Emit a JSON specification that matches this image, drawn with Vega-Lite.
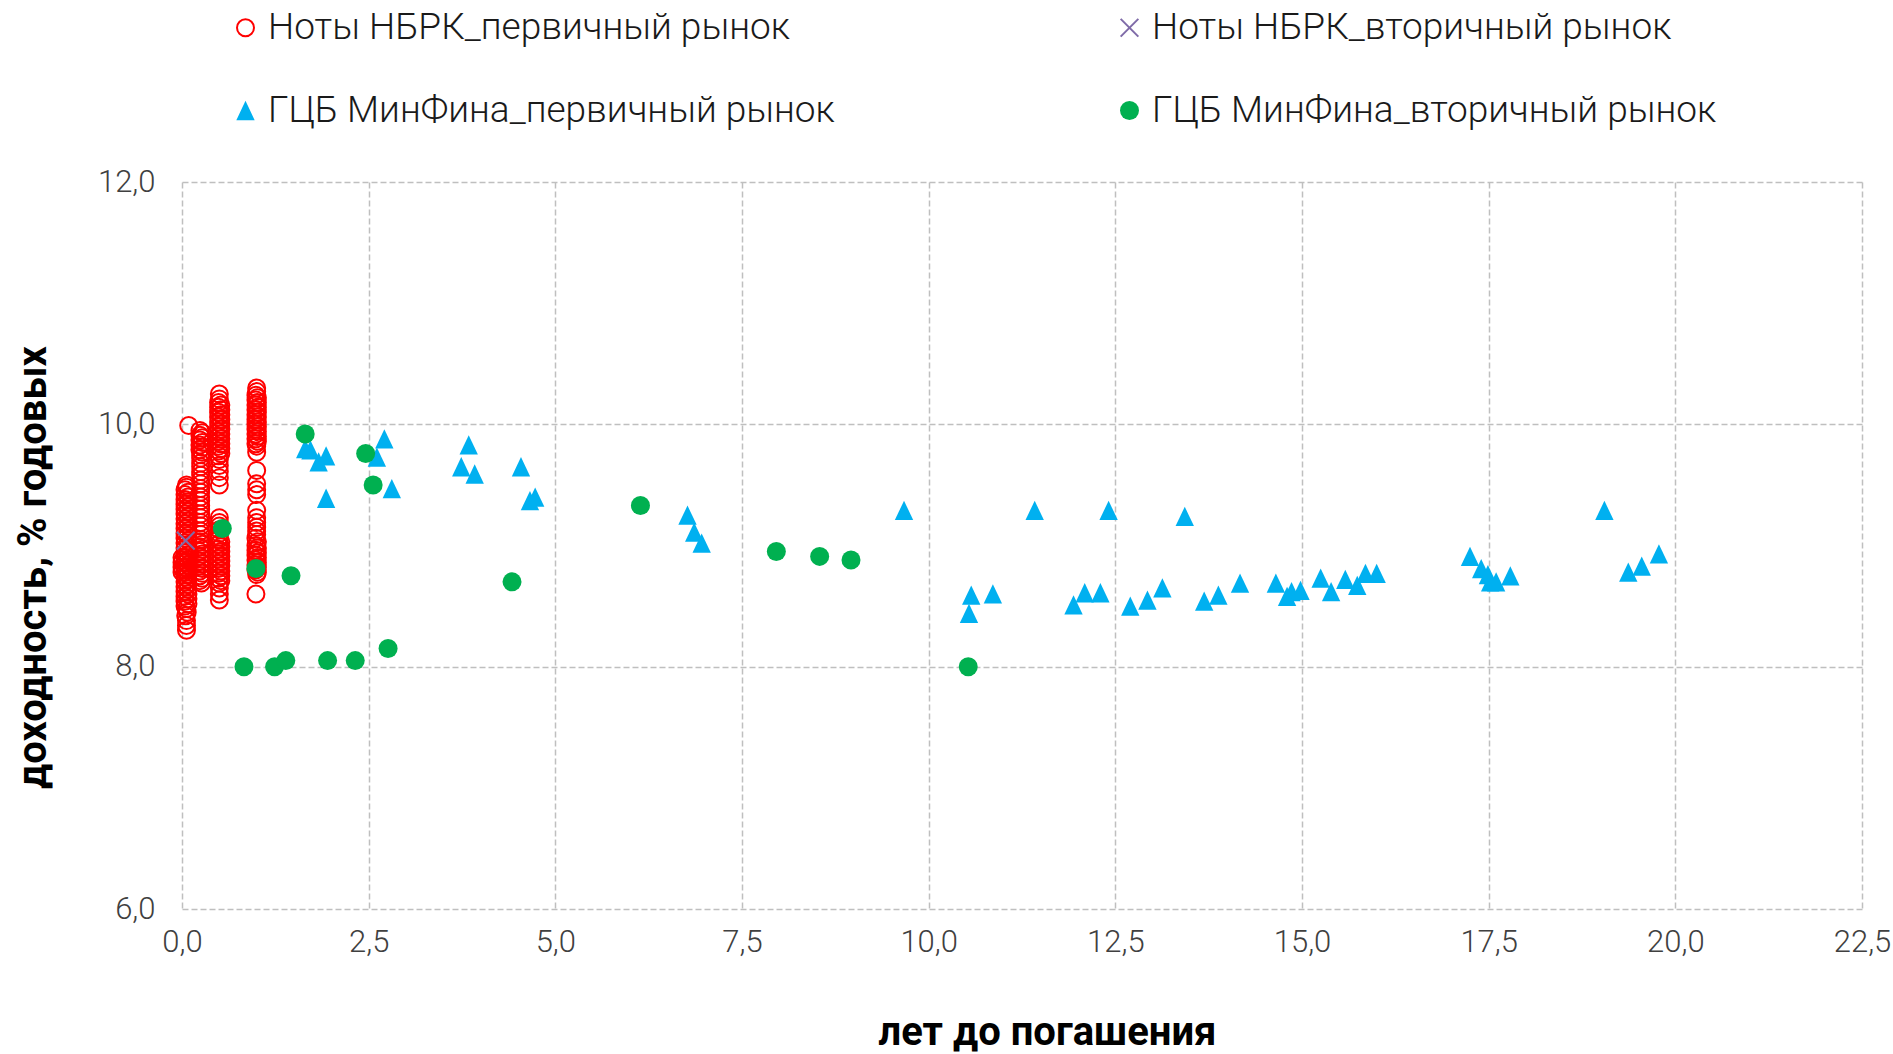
{
  "$schema": "https://vega.github.io/schema/vega-lite/v6.json",
  "width": 1680,
  "height": 727,
  "autosize": {"type": "none"},
  "padding": {"left": 182, "top": 182, "right": 31, "bottom": 145},
  "background": "white",
  "config": {
    "view": {"stroke": null},
    "axis": {
      "grid": true, "gridColor": "#BFBFBF", "gridDash": [6, 3], "gridWidth": 1.5,
      "domain": false, "ticks": false, "tickSize": 0, "labelFlush": false,
      "labelFont": "Roboto", "labelFontWeight": 300, "labelFontSize": 31, "labelColor": "#404040",
      "titleFont": "Roboto", "titleFontWeight": "bold", "titleFontSize": 40, "titleColor": "#000000"
    },
    "legend": {
      "labelFont": "Roboto", "labelFontWeight": 300, "labelFontSize": 37, "labelColor": "#1a1a1a"
    }
  },
  "data": {
    "values": [
      {"s":"a","x":0.06,"y":8.30},{"s":"a","x":0.06,"y":8.34},{"s":"a","x":0.06,"y":8.38},{"s":"a","x":0.05,"y":8.42},{"s":"a","x":0.07,"y":8.45},{"s":"a","x":0.06,"y":8.48},
      {"s":"a","x":0.04,"y":8.50},{"s":"a","x":0.08,"y":8.52},{"s":"a","x":0.04,"y":8.54},{"s":"a","x":0.08,"y":8.56},{"s":"a","x":0.04,"y":8.58},{"s":"a","x":0.08,"y":8.60},{"s":"a","x":0.04,"y":8.62},{"s":"a","x":0.08,"y":8.64},{"s":"a","x":0.04,"y":8.66},{"s":"a","x":0.08,"y":8.68},
      {"s":"a","x":0.04,"y":8.70},{"s":"a","x":0.08,"y":8.72},{"s":"a","x":0.04,"y":8.74},{"s":"a","x":0.08,"y":8.76},{"s":"a","x":0.04,"y":8.78},{"s":"a","x":0.08,"y":8.80},{"s":"a","x":0.04,"y":8.82},{"s":"a","x":0.08,"y":8.84},{"s":"a","x":0.04,"y":8.86},{"s":"a","x":0.08,"y":8.88},
      {"s":"a","x":0.04,"y":8.90},{"s":"a","x":0.08,"y":8.92},{"s":"a","x":0.04,"y":8.94},{"s":"a","x":0.08,"y":8.96},{"s":"a","x":0.04,"y":8.98},{"s":"a","x":0.08,"y":9.00},{"s":"a","x":0.04,"y":9.02},{"s":"a","x":0.08,"y":9.04},{"s":"a","x":0.04,"y":9.06},{"s":"a","x":0.08,"y":9.08},
      {"s":"a","x":0.04,"y":9.10},{"s":"a","x":0.08,"y":9.12},{"s":"a","x":0.04,"y":9.14},{"s":"a","x":0.08,"y":9.16},{"s":"a","x":0.04,"y":9.18},{"s":"a","x":0.08,"y":9.20},{"s":"a","x":0.04,"y":9.22},{"s":"a","x":0.08,"y":9.24},{"s":"a","x":0.04,"y":9.26},{"s":"a","x":0.08,"y":9.28},
      {"s":"a","x":0.04,"y":9.30},{"s":"a","x":0.08,"y":9.32},{"s":"a","x":0.04,"y":9.34},{"s":"a","x":0.08,"y":9.36},{"s":"a","x":0.04,"y":9.38},{"s":"a","x":0.08,"y":9.40},{"s":"a","x":0.04,"y":9.42},{"s":"a","x":0.08,"y":9.44},{"s":"a","x":0.04,"y":9.46},{"s":"a","x":0.06,"y":9.48},{"s":"a","x":0.06,"y":9.50},
      {"s":"a","x":0.0,"y":8.78},{"s":"a","x":0.0,"y":8.82},{"s":"a","x":0.0,"y":8.86},{"s":"a","x":0.0,"y":8.90},{"s":"a","x":0.01,"y":8.80},{"s":"a","x":0.01,"y":8.88},
      {"s":"a","x":0.09,"y":9.99},
      {"s":"a","x":0.24,"y":9.95},{"s":"a","x":0.27,"y":9.93},{"s":"a","x":0.24,"y":9.91},{"s":"a","x":0.27,"y":9.89},{"s":"a","x":0.24,"y":9.87},{"s":"a","x":0.27,"y":9.85},{"s":"a","x":0.24,"y":9.83},{"s":"a","x":0.27,"y":9.81},{"s":"a","x":0.24,"y":9.79},{"s":"a","x":0.27,"y":9.77},{"s":"a","x":0.25,"y":9.75},
      {"s":"a","x":0.25,"y":9.72},{"s":"a","x":0.25,"y":9.68},{"s":"a","x":0.25,"y":9.65},{"s":"a","x":0.25,"y":9.61},{"s":"a","x":0.25,"y":9.58},{"s":"a","x":0.25,"y":9.54},{"s":"a","x":0.25,"y":9.51},{"s":"a","x":0.25,"y":9.47},{"s":"a","x":0.25,"y":9.44},{"s":"a","x":0.25,"y":9.40},
      {"s":"a","x":0.25,"y":9.37},{"s":"a","x":0.25,"y":9.33},{"s":"a","x":0.25,"y":9.30},{"s":"a","x":0.25,"y":9.26},{"s":"a","x":0.25,"y":9.23},{"s":"a","x":0.25,"y":9.19},{"s":"a","x":0.25,"y":9.16},{"s":"a","x":0.25,"y":9.12},{"s":"a","x":0.25,"y":9.09},{"s":"a","x":0.25,"y":9.05},
      {"s":"a","x":0.24,"y":9.03},{"s":"a","x":0.27,"y":9.01},{"s":"a","x":0.24,"y":8.99},{"s":"a","x":0.27,"y":8.97},{"s":"a","x":0.24,"y":8.95},{"s":"a","x":0.27,"y":8.93},{"s":"a","x":0.24,"y":8.91},{"s":"a","x":0.27,"y":8.89},{"s":"a","x":0.24,"y":8.87},
      {"s":"a","x":0.27,"y":8.85},{"s":"a","x":0.24,"y":8.83},{"s":"a","x":0.27,"y":8.81},{"s":"a","x":0.24,"y":8.79},{"s":"a","x":0.27,"y":8.77},{"s":"a","x":0.24,"y":8.75},{"s":"a","x":0.27,"y":8.73},{"s":"a","x":0.24,"y":8.71},{"s":"a","x":0.26,"y":8.69},
      {"s":"a","x":0.50,"y":10.25},{"s":"a","x":0.50,"y":10.21},{"s":"a","x":0.49,"y":10.18},{"s":"a","x":0.52,"y":10.16},{"s":"a","x":0.49,"y":10.14},{"s":"a","x":0.52,"y":10.12},{"s":"a","x":0.49,"y":10.10},{"s":"a","x":0.52,"y":10.08},{"s":"a","x":0.49,"y":10.06},{"s":"a","x":0.52,"y":10.04},
      {"s":"a","x":0.49,"y":10.02},{"s":"a","x":0.52,"y":10.00},{"s":"a","x":0.49,"y":9.98},{"s":"a","x":0.52,"y":9.96},{"s":"a","x":0.49,"y":9.94},{"s":"a","x":0.52,"y":9.92},{"s":"a","x":0.49,"y":9.90},{"s":"a","x":0.52,"y":9.88},{"s":"a","x":0.49,"y":9.86},{"s":"a","x":0.52,"y":9.84},
      {"s":"a","x":0.49,"y":9.82},{"s":"a","x":0.52,"y":9.80},{"s":"a","x":0.49,"y":9.78},{"s":"a","x":0.52,"y":9.76},{"s":"a","x":0.49,"y":9.74},{"s":"a","x":0.50,"y":9.71},{"s":"a","x":0.50,"y":9.66},{"s":"a","x":0.50,"y":9.61},{"s":"a","x":0.50,"y":9.56},{"s":"a","x":0.50,"y":9.50},
      {"s":"a","x":0.50,"y":9.23},{"s":"a","x":0.50,"y":9.19},{"s":"a","x":0.50,"y":9.16},{"s":"a","x":0.50,"y":9.13},{"s":"a","x":0.50,"y":9.10},{"s":"a","x":0.50,"y":9.07},{"s":"a","x":0.49,"y":9.05},{"s":"a","x":0.52,"y":9.03},{"s":"a","x":0.49,"y":9.01},{"s":"a","x":0.52,"y":8.99},
      {"s":"a","x":0.49,"y":8.97},{"s":"a","x":0.52,"y":8.95},{"s":"a","x":0.49,"y":8.93},{"s":"a","x":0.52,"y":8.91},{"s":"a","x":0.49,"y":8.89},{"s":"a","x":0.52,"y":8.87},{"s":"a","x":0.49,"y":8.85},{"s":"a","x":0.52,"y":8.83},{"s":"a","x":0.49,"y":8.81},{"s":"a","x":0.52,"y":8.79},
      {"s":"a","x":0.49,"y":8.77},{"s":"a","x":0.52,"y":8.75},{"s":"a","x":0.49,"y":8.73},{"s":"a","x":0.52,"y":8.71},{"s":"a","x":0.50,"y":8.69},{"s":"a","x":0.50,"y":8.65},{"s":"a","x":0.50,"y":8.60},{"s":"a","x":0.50,"y":8.55},
      {"s":"a","x":1.00,"y":10.30},{"s":"a","x":1.00,"y":10.27},{"s":"a","x":0.99,"y":10.24},{"s":"a","x":1.01,"y":10.22},{"s":"a","x":0.99,"y":10.20},{"s":"a","x":1.01,"y":10.18},{"s":"a","x":0.99,"y":10.16},{"s":"a","x":1.01,"y":10.14},{"s":"a","x":0.99,"y":10.12},{"s":"a","x":1.01,"y":10.10},
      {"s":"a","x":0.99,"y":10.08},{"s":"a","x":1.01,"y":10.06},{"s":"a","x":0.99,"y":10.04},{"s":"a","x":1.01,"y":10.02},{"s":"a","x":0.99,"y":10.00},{"s":"a","x":1.01,"y":9.98},{"s":"a","x":0.99,"y":9.96},{"s":"a","x":1.01,"y":9.94},{"s":"a","x":0.99,"y":9.92},{"s":"a","x":1.01,"y":9.90},
      {"s":"a","x":0.99,"y":9.88},{"s":"a","x":1.01,"y":9.86},{"s":"a","x":0.99,"y":9.84},{"s":"a","x":1.00,"y":9.82},{"s":"a","x":1.00,"y":9.77},
      {"s":"a","x":1.00,"y":9.62},{"s":"a","x":1.00,"y":9.51},{"s":"a","x":1.00,"y":9.46},{"s":"a","x":1.00,"y":9.42},
      {"s":"a","x":1.00,"y":9.29},{"s":"a","x":1.00,"y":9.23},{"s":"a","x":1.00,"y":9.19},{"s":"a","x":1.00,"y":9.15},{"s":"a","x":1.00,"y":9.12},{"s":"a","x":1.00,"y":9.09},{"s":"a","x":0.99,"y":9.06},{"s":"a","x":1.01,"y":9.03},{"s":"a","x":0.99,"y":9.00},{"s":"a","x":1.01,"y":8.98},
      {"s":"a","x":0.99,"y":8.96},{"s":"a","x":1.01,"y":8.94},{"s":"a","x":0.99,"y":8.92},{"s":"a","x":1.01,"y":8.90},{"s":"a","x":0.99,"y":8.88},{"s":"a","x":1.01,"y":8.86},{"s":"a","x":0.99,"y":8.84},{"s":"a","x":1.01,"y":8.82},{"s":"a","x":0.99,"y":8.80},{"s":"a","x":1.01,"y":8.78},{"s":"a","x":1.00,"y":8.76},
      {"s":"a","x":0.99,"y":8.60},
      {"s":"b","x":0.05,"y":9.04},
      {"s":"c","x":1.65,"y":9.80},{"s":"c","x":1.72,"y":9.79},{"s":"c","x":1.83,"y":9.69},{"s":"c","x":1.93,"y":9.74},{"s":"c","x":1.93,"y":9.39},{"s":"c","x":2.61,"y":9.73},{"s":"c","x":2.71,"y":9.88},{"s":"c","x":2.81,"y":9.47},
      {"s":"c","x":3.74,"y":9.65},{"s":"c","x":3.84,"y":9.83},{"s":"c","x":3.92,"y":9.59},{"s":"c","x":4.54,"y":9.65},{"s":"c","x":4.66,"y":9.37},{"s":"c","x":4.73,"y":9.40},{"s":"c","x":6.77,"y":9.25},{"s":"c","x":6.86,"y":9.11},{"s":"c","x":6.96,"y":9.02},
      {"s":"c","x":9.67,"y":9.29},{"s":"c","x":10.54,"y":8.44},{"s":"c","x":10.57,"y":8.59},{"s":"c","x":10.86,"y":8.60},{"s":"c","x":11.42,"y":9.29},{"s":"c","x":11.94,"y":8.51},{"s":"c","x":12.09,"y":8.61},{"s":"c","x":12.30,"y":8.61},{"s":"c","x":12.41,"y":9.29},
      {"s":"c","x":12.70,"y":8.50},{"s":"c","x":12.93,"y":8.55},{"s":"c","x":13.13,"y":8.65},{"s":"c","x":13.43,"y":9.24},{"s":"c","x":13.69,"y":8.54},{"s":"c","x":13.88,"y":8.59},{"s":"c","x":14.17,"y":8.69},{"s":"c","x":14.65,"y":8.69},{"s":"c","x":14.80,"y":8.58},{"s":"c","x":14.86,"y":8.62},{"s":"c","x":14.98,"y":8.63},
      {"s":"c","x":15.25,"y":8.73},{"s":"c","x":15.39,"y":8.62},{"s":"c","x":15.58,"y":8.72},{"s":"c","x":15.74,"y":8.67},{"s":"c","x":15.85,"y":8.77},{"s":"c","x":16.00,"y":8.77},
      {"s":"c","x":17.25,"y":8.91},{"s":"c","x":17.40,"y":8.81},{"s":"c","x":17.49,"y":8.76},{"s":"c","x":17.52,"y":8.70},{"s":"c","x":17.60,"y":8.70},{"s":"c","x":17.79,"y":8.75},
      {"s":"c","x":19.05,"y":9.29},{"s":"c","x":19.37,"y":8.78},{"s":"c","x":19.55,"y":8.83},{"s":"c","x":19.78,"y":8.93},
      {"s":"d","x":0.83,"y":8.00},{"s":"d","x":1.24,"y":8.00},{"s":"d","x":1.39,"y":8.05},{"s":"d","x":1.95,"y":8.05},{"s":"d","x":2.32,"y":8.05},{"s":"d","x":2.76,"y":8.15},
      {"s":"d","x":0.54,"y":9.14},{"s":"d","x":0.99,"y":8.81},{"s":"d","x":1.46,"y":8.75},{"s":"d","x":1.65,"y":9.92},{"s":"d","x":2.46,"y":9.76},{"s":"d","x":2.56,"y":9.50},
      {"s":"d","x":4.42,"y":8.70},{"s":"d","x":6.14,"y":9.33},{"s":"d","x":7.96,"y":8.95},{"s":"d","x":8.54,"y":8.91},{"s":"d","x":8.96,"y":8.88},{"s":"d","x":10.53,"y":8.00}
    ]
  },
  "mark": {"type": "point", "strokeWidth": 2, "opacity": 1, "filled": false},
  "encoding": {
    "x": {
      "field": "x", "type": "quantitative",
      "scale": {"domain": [0, 22.5], "nice": false, "zero": false},
      "axis": {
        "values": [0, 2.5, 5, 7.5, 10, 12.5, 15, 17.5, 20, 22.5],
        "labelExpr": "replace(format(datum.value, '.1f'), '.', ',')",
        "labelPadding": 18,
        "title": "лет до погашения",
        "titleX": 865, "titleY": 135, "titleAlign": "center", "titleBaseline": "alphabetic"
      }
    },
    "y": {
      "field": "y", "type": "quantitative",
      "scale": {"domain": [6, 12], "nice": false, "zero": false},
      "axis": {
        "values": [6, 8, 10, 12],
        "labelExpr": "replace(format(datum.value, '.1f'), '.', ',')",
        "labelPadding": 27,
        "title": "доходность, % годовых",
        "titleX": -137, "titleY": 385, "titleAngle": -90, "titleAlign": "center", "titleBaseline": "alphabetic"
      }
    },
    "shape": {
      "field": "s", "type": "nominal",
      "scale": {"domain": ["a", "b", "c", "d"], "range": ["circle", "M-1,-1L1,1M-1,1L1,-1", "M0,-1.05L-1,1.05L1,1.05Z", "circle"]},
      "legend": {
        "title": null, "orient": "none", "legendX": 45, "legendY": -173, "direction": "horizontal", "columns": 2,
        "padding": 0, "columnPadding": 276, "rowPadding": 45, "labelOffset": 4, "symbolStrokeWidth": 2, "labelLimit": 800,
        "labelExpr": "datum.label == 'a' ? 'Ноты НБРК_первичный рынок' : datum.label == 'b' ? 'Ноты НБРК_вторичный рынок' : datum.label == 'c' ? 'ГЦБ МинФина_первичный рынок' : 'ГЦБ МинФина_вторичный рынок'"
      }
    },
    "fill": {
      "field": "s", "type": "nominal",
      "scale": {"domain": ["a", "b", "c", "d"], "range": ["transparent", "transparent", "#00B0F0", "#00B050"]}
    },
    "stroke": {
      "field": "s", "type": "nominal",
      "scale": {"domain": ["a", "b", "c", "d"], "range": ["#FF0000", "#7F6BA8", "transparent", "transparent"]}
    },
    "size": {
      "field": "s", "type": "nominal",
      "scale": {"domain": ["a", "b", "c", "d"], "range": [289, 361, 420, 441]}
    }
  }
}
